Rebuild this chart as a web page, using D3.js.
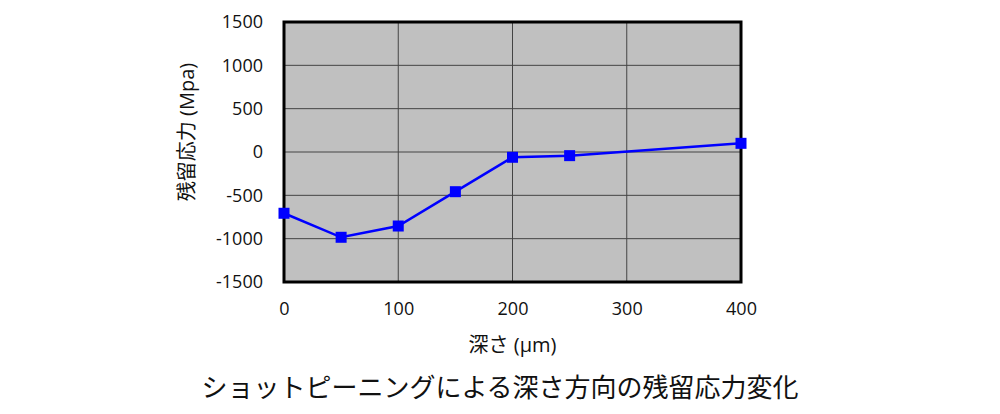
<!DOCTYPE html>
<html>
<head>
<meta charset="utf-8">
<script src="https://cdn.jsdelivr.net/npm/d3@7"></script>
<style>
  body { margin: 0; background: #fff; }
  text { font-family: "Open Sans", "Noto Sans CJK JP", sans-serif; fill: #111; }
</style>
</head>
<body>
<svg id="chart" width="1000" height="414"></svg>
<script>
// depth (um) vs residual stress (MPa)
var depths = [0, 50, 100, 150, 200, 250, 400];
var stress = [-707, -984, -854, -458, -61, -42, 100];
var xTicks = [0, 100, 200, 300, 400];
var yTicks = [-1500, -1000, -500, 0, 500, 1000, 1500];

var svg = d3.select('#chart');
var plotL = 284, plotR = 741, plotT = 22, plotB = 282;

var x = d3.scaleLinear().domain([0, 400]).range([plotL, plotR]);
var y = d3.scaleLinear().domain([-1500, 1500]).range([plotB, plotT]);

// plot background
svg.append('rect')
    .attr('x', plotL).attr('y', plotT)
    .attr('width', plotR - plotL).attr('height', plotB - plotT)
    .attr('fill', '#c0c0c0');

// gridlines
svg.append('g').selectAll('line')
    .data(yTicks.slice(1, -1))
    .enter().append('line')
    .attr('x1', plotL).attr('x2', plotR)
    .attr('y1', function(d){ return y(d); })
    .attr('y2', function(d){ return y(d); })
    .attr('stroke', '#444').attr('stroke-width', 1);

svg.append('g').selectAll('line')
    .data(xTicks.slice(1, -1))
    .enter().append('line')
    .attr('y1', plotT).attr('y2', plotB)
    .attr('x1', function(d){ return x(d); })
    .attr('x2', function(d){ return x(d); })
    .attr('stroke', '#444').attr('stroke-width', 1);

// frame
svg.append('rect')
    .attr('x', plotL).attr('y', plotT)
    .attr('width', plotR - plotL).attr('height', plotB - plotT)
    .attr('fill', 'none').attr('stroke', '#000').attr('stroke-width', 3);

var fmt = function(d){ return String(d); };

// tick labels via d3 axes (no lines)
var yAxis = svg.append('g')
    .attr('transform', 'translate(' + (plotL - 21) + ',0)')
    .call(d3.axisLeft(y).tickValues(yTicks).tickFormat(fmt).tickSize(0).tickPadding(0));
yAxis.select('.domain').remove();
yAxis.selectAll('text').style('font-size', '18px')
    .style('font-family', '"Open Sans", sans-serif').attr('fill', '#111');

var xAxis = svg.append('g')
    .attr('transform', 'translate(0,' + (plotB + 20) + ')')
    .call(d3.axisBottom(x).tickValues(xTicks).tickFormat(fmt).tickSize(0).tickPadding(0));
xAxis.select('.domain').remove();
xAxis.selectAll('text').style('font-size', '18px')
    .style('font-family', '"Open Sans", sans-serif').attr('fill', '#111');

// line + markers
var pts = depths.map(function(d, i){ return {x: d, y: stress[i]}; });

svg.append('path')
    .datum(pts)
    .attr('d', d3.line().x(function(d){ return x(d.x); }).y(function(d){ return y(d.y); }))
    .attr('fill', 'none').attr('stroke', '#0000ff').attr('stroke-width', 2.5);

svg.append('g').selectAll('rect')
    .data(pts)
    .enter().append('rect')
    .attr('x', function(d){ return x(d.x) - 5.5; })
    .attr('y', function(d){ return y(d.y) - 5.5; })
    .attr('width', 11).attr('height', 11)
    .attr('fill', '#0000ff');

// titles
svg.append('text')
    .attr('x', (plotL + plotR) / 2).attr('y', 352)
    .attr('text-anchor', 'middle')
    .style('font-size', '20px')
    .text('深さ (μm)');

svg.append('text')
    .attr('transform', 'translate(194,' + ((plotT + plotB) / 2 - 20) + ') rotate(-90)')
    .attr('text-anchor', 'middle')
    .style('font-size', '20px')
    .text('残留応力 (Mpa)');

svg.append('text')
    .attr('x', 500).attr('y', 397)
    .attr('text-anchor', 'middle')
    .style('font-size', '26px')
    .text('ショットピーニングによる深さ方向の残留応力変化');
</script>
</body>
</html>
